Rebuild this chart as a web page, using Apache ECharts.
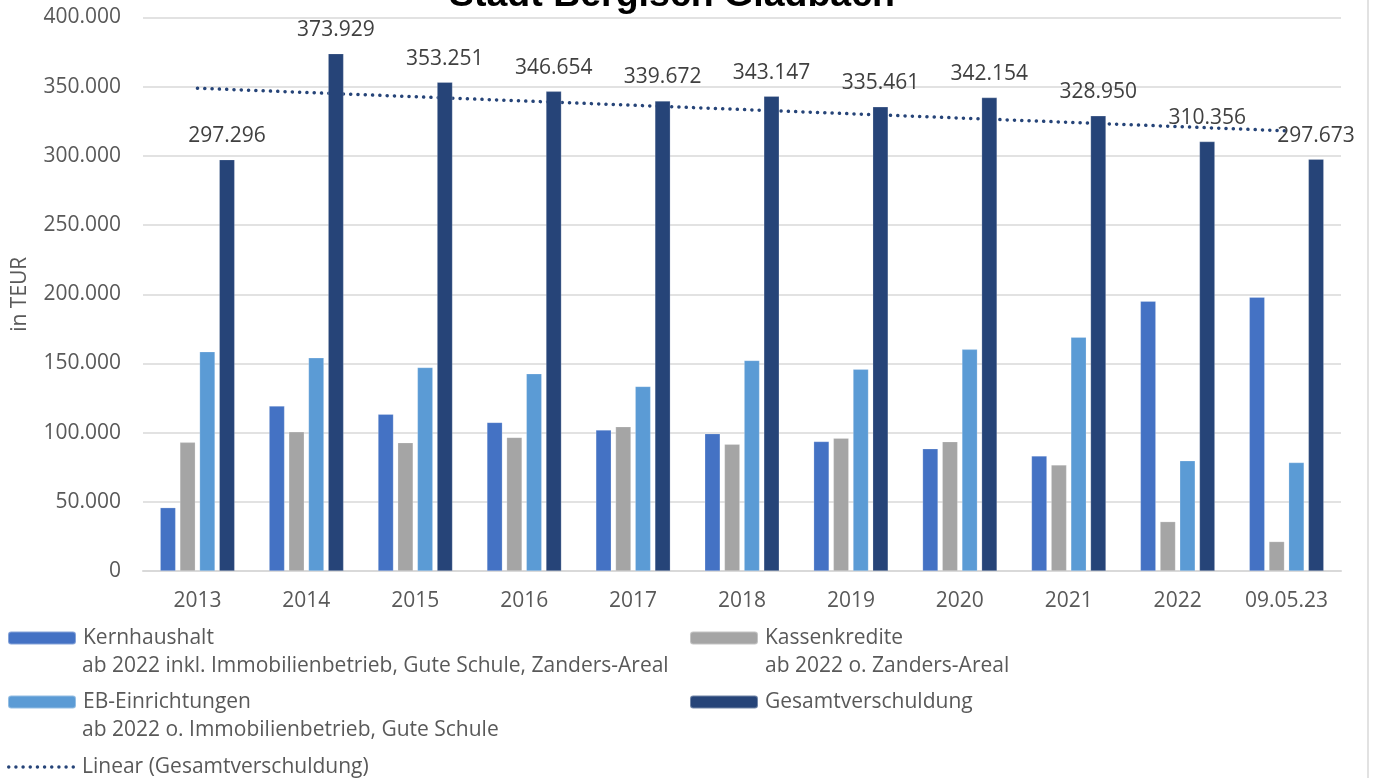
<!DOCTYPE html>
<html>
<head>
<meta charset="utf-8">
<script src="https://cdn.jsdelivr.net/npm/echarts@6/dist/echarts.min.js"></script>
<style>
  html, body { margin: 0; padding: 0; background: #ffffff; }
  #chart { width: 1373px; height: 778px; }
</style>
</head>
<body>
<div id="chart"></div>
<script>
const categories = ['2013', '2014', '2015', '2016', '2017', '2018', '2019', '2020', '2021', '2022', '09.05.23'];
const kernhaushalt = [45800, 119200, 113300, 107400, 101900, 99300, 93600, 88400, 83200, 195000, 197900];
const kassenkredite = [93000, 100600, 92800, 96600, 104300, 91600, 96000, 93500, 76700, 35700, 21300];
const ebEinrichtungen = [158500, 154100, 147100, 142600, 133400, 152200, 145800, 160200, 169000, 79700, 78400];
const gesamtverschuldung = [297296, 373929, 353251, 346654, 339672, 343147, 335461, 342154, 328950, 310356, 297673];
const trendEnds = [348900, 318100];
const yTicks = [0, 50000, 100000, 150000, 200000, 250000, 300000, 350000, 400000];

const FONT = 'Open Sans';
const FS = 21;
const fmt = v => String(Math.round(v)).replace(/\B(?=(\d{3})+(?!\d))/g, '.');

// dotted legend icon (10 round dots)
function dotsPath(w, d, n) {
  const r = d / 2, step = (w - d) / (n - 1);
  let p = '';
  for (let i = 0; i < n; i++) {
    const cx = r + i * step;
    p += 'M' + (cx - r) + ' ' + r + 'a' + r + ' ' + r + ' 0 1 0 ' + d + ' 0a' + r + ' ' + r + ' 0 1 0 ' + (-d) + ' 0z';
  }
  return 'path://' + p;
}

const chart = echarts.init(document.getElementById('chart'), null, { renderer: 'canvas' });

const barCommon = {
  type: 'bar',
  barWidth: 15.5,
  barGap: '27%',
  itemStyle: { borderColor: 'rgba(255,255,255,0.35)', borderWidth: 0.6 }
};

const legendText = { color: '#595959', fontFamily: FONT, fontSize: FS, lineHeight: 22, padding: [0, 0, 0, 2] };
function legendAt(name, left, top, extra) {
  return Object.assign({
    left: left, top: top, padding: 0, orient: 'horizontal', itemWidth: 68, itemHeight: 13,
    data: [name], textStyle: legendText, selectedMode: false
  }, extra || {});
}

chart.setOption({
  animation: false,
  backgroundColor: '#ffffff',
  title: {
    text: 'Stadt Bergisch Gladbach',
    left: 449,
    top: -23,
    padding: 0,
    textStyle: { fontFamily: 'Liberation Sans', fontWeight: 'bold', fontSize: 37.5, color: '#000000' }
  },
  grid: { left: 143, right: 32, top: 17.5, bottom: 207, containLabel: false, outerBoundsMode: 'none' },
  xAxis: {
    type: 'category',
    data: categories,
    axisLine: { lineStyle: { color: '#D9D9D9', width: 2 } },
    axisTick: { show: false },
    axisLabel: { color: '#595959', fontFamily: FONT, fontSize: FS, margin: 20, interval: 0 }
  },
  yAxis: {
    type: 'value',
    min: yTicks[0],
    max: yTicks[yTicks.length - 1],
    interval: yTicks[1] - yTicks[0],
    name: 'in TEUR',
    nameLocation: 'middle',
    nameRotate: 90,
    nameGap: 112,
    nameTextStyle: { color: '#595959', fontFamily: FONT, fontSize: FS },
    axisLine: { show: false },
    axisTick: { show: false },
    splitLine: { lineStyle: { color: '#D9D9D9', width: 1.5 } },
    axisLabel: { color: '#595959', fontFamily: FONT, fontSize: FS, margin: 22, formatter: fmt }
  },
  legend: [
    legendAt('Kernhaushalt', 7, 627),
    legendAt('EB-Einrichtungen', 7, 691),
    legendAt('Linear (Gesamtverschuldung)', 7, 756, {
      itemHeight: 3.5,
      data: [{ name: 'Linear (Gesamtverschuldung)', icon: dotsPath(68, 3.5, 10), itemStyle: { color: '#264478' } }]
    }),
    legendAt('Kassenkredite', 689, 627),
    legendAt('Gesamtverschuldung', 689, 691)
  ],
  graphic: [
    { type: 'text', left: 82, top: 656, style: { text: 'ab 2022 inkl. Immobilienbetrieb, Gute Schule, Zanders-Areal', fill: '#595959', font: FS + 'px "Open Sans"' } },
    { type: 'text', left: 765, top: 656, style: { text: 'ab 2022 o. Zanders-Areal', fill: '#595959', font: FS + 'px "Open Sans"' } },
    { type: 'text', left: 82, top: 720, style: { text: 'ab 2022 o. Immobilienbetrieb, Gute Schule', fill: '#595959', font: FS + 'px "Open Sans"' } },
    { type: 'line', shape: { x1: 1368, y1: 0, x2: 1368, y2: 778 }, style: { stroke: '#D9D9D9', lineWidth: 1.5 } }
  ],
  series: [
    Object.assign({}, barCommon, { name: 'Kernhaushalt', data: kernhaushalt, itemStyle: Object.assign({}, barCommon.itemStyle, { color: '#4472C4' }) }),
    Object.assign({}, barCommon, { name: 'Kassenkredite', data: kassenkredite, itemStyle: Object.assign({}, barCommon.itemStyle, { color: '#A5A5A5' }) }),
    Object.assign({}, barCommon, { name: 'EB-Einrichtungen', data: ebEinrichtungen, itemStyle: Object.assign({}, barCommon.itemStyle, { color: '#5B9BD5' }) }),
    Object.assign({}, barCommon, {
      name: 'Gesamtverschuldung', data: gesamtverschuldung,
      itemStyle: Object.assign({}, barCommon.itemStyle, { color: '#264478' }),
      label: { show: true, position: 'top', distance: 13, color: '#404040', fontFamily: FONT, fontSize: FS, formatter: p => fmt(p.value) },
      z: 3
    }),
    {
      name: 'Linear (Gesamtverschuldung)',
      type: 'line',
      data: [[categories[0], trendEnds[0]], [categories[categories.length - 1], trendEnds[1]]],
      symbol: 'none',
      lineStyle: { color: '#264478', width: 3.5, type: [0.1, 7.2], cap: 'round' },
      itemStyle: { color: '#264478' },
      z: 2
    }
  ]
});
</script>
</body>
</html>
